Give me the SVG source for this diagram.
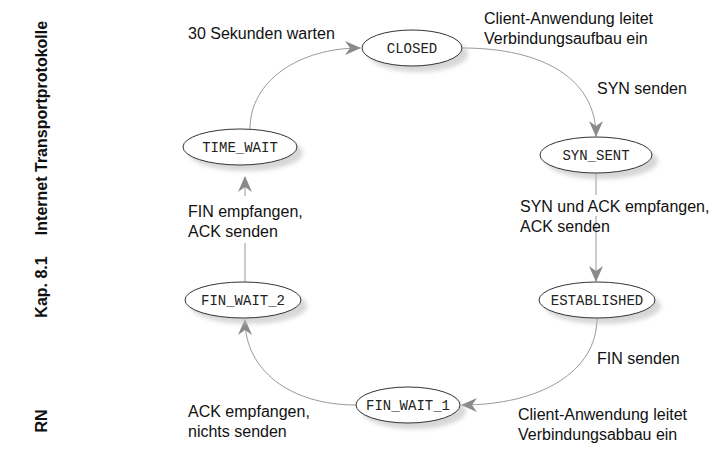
<svg xmlns="http://www.w3.org/2000/svg" width="724" height="452" viewBox="0 0 724 452">
  <style>
    .state { fill: #ffffff; stroke: #333333; stroke-width: 1; }
    .shadow { fill: #bdbdbd; opacity: 0.6; }
    .name { font-family: "Liberation Mono", "Courier New", monospace; font-size: 14px; fill: #222222; text-anchor: middle; }
    .label { font-family: "Liberation Sans", Arial, sans-serif; font-size: 16px; fill: #111111; }
    .side { font-family: "Liberation Sans Narrow", "Liberation Sans", Arial, sans-serif; font-size: 16px; font-weight: bold; fill: #111111; text-anchor: middle; }
    .edge { fill: none; stroke: #9a9a9a; stroke-width: 1; marker-end: url(#arrow); }
    .line { fill: none; stroke: #9a9a9a; stroke-width: 1; }
  </style>
  <defs>
    <marker id="arrow" viewBox="0 0 16 14" refX="15" refY="7" markerWidth="16" markerHeight="14" markerUnits="userSpaceOnUse" orient="auto">
      <path d="M0,0 L16,7 L0,14 L5,7 Z" fill="#8a8a8a"/>
    </marker>
    <filter id="soft" x="-20%" y="-40%" width="140%" height="180%">
      <feGaussianBlur stdDeviation="2"/>
    </filter>
  </defs>

  <!-- side captions -->
  <g id="captions">
    <text class="side" transform="translate(47,128) rotate(-90)">Internet Transportprotokolle</text>
    <text class="side" transform="translate(47,287) rotate(-90)">Kap. 8.1</text>
    <text class="side" transform="translate(47,421) rotate(-90)">RN</text>
  </g>

  <!-- transitions -->
  <g id="connectors">
    <path class="edge" d="M462,48 C545,48 596,80 596,136"/>
    <path class="line" d="M596,173 L596,195"/>
    <path class="edge" d="M596,216 L596,281"/>
    <path class="edge" d="M597,318 C597,372 540,405 462,405"/>
    <path class="edge" d="M356,405 C290,405 245,370 245,320"/>
    <path class="line" d="M245,282 L245,243"/>
    <path class="edge" d="M245,196 L245,177"/>
    <path class="edge" d="M250,129 C250,80 300,48 360,48"/>
  </g>

  <!-- states -->
  <g id="closed">
    <ellipse class="shadow" cx="418" cy="54" rx="50" ry="18" filter="url(#soft)"/>
    <ellipse class="state" cx="412" cy="48" rx="50" ry="18"/>
    <text class="name" x="412" y="53">CLOSED</text>
  </g>
  <g id="syn_sent">
    <ellipse class="shadow" cx="602" cy="161" rx="56" ry="18" filter="url(#soft)"/>
    <ellipse class="state" cx="596" cy="155" rx="56" ry="18"/>
    <text class="name" x="596" y="160">SYN_SENT</text>
  </g>
  <g id="established">
    <ellipse class="shadow" cx="603" cy="306" rx="58" ry="18" filter="url(#soft)"/>
    <ellipse class="state" cx="597" cy="300" rx="58" ry="18"/>
    <text class="name" x="597" y="305">ESTABLISHED</text>
  </g>
  <g id="fin_wait_1">
    <ellipse class="shadow" cx="414" cy="411" rx="52" ry="18" filter="url(#soft)"/>
    <ellipse class="state" cx="408" cy="405" rx="52" ry="18"/>
    <text class="name" x="408" y="410">FIN_WAIT_1</text>
  </g>
  <g id="fin_wait_2">
    <ellipse class="shadow" cx="249" cy="306" rx="58" ry="18" filter="url(#soft)"/>
    <ellipse class="state" cx="243" cy="300" rx="58" ry="18"/>
    <text class="name" x="243" y="305">FIN_WAIT_2</text>
  </g>
  <g id="time_wait">
    <ellipse class="shadow" cx="246" cy="153" rx="57" ry="18" filter="url(#soft)"/>
    <ellipse class="state" cx="240" cy="147" rx="57" ry="18"/>
    <text class="name" x="240" y="152">TIME_WAIT</text>
  </g>

  <!-- transition labels -->
  <g id="labels">
    <text class="label" x="188" y="39">30 Sekunden warten</text>
    <text class="label" x="484" y="24">Client-Anwendung leitet</text>
    <text class="label" x="484" y="44">Verbindungsaufbau ein</text>
    <text class="label" x="597" y="94">SYN senden</text>
    <text class="label" x="520" y="212">SYN und ACK empfangen,</text>
    <text class="label" x="520" y="232">ACK senden</text>
    <text class="label" x="597" y="364">FIN senden</text>
    <text class="label" x="518" y="420">Client-Anwendung leitet</text>
    <text class="label" x="518" y="440">Verbindungsabbau ein</text>
    <text class="label" x="188" y="417">ACK empfangen,</text>
    <text class="label" x="188" y="437">nichts senden</text>
    <text class="label" x="188" y="217">FIN empfangen,</text>
    <text class="label" x="188" y="237">ACK senden</text>
  </g>
</svg>
